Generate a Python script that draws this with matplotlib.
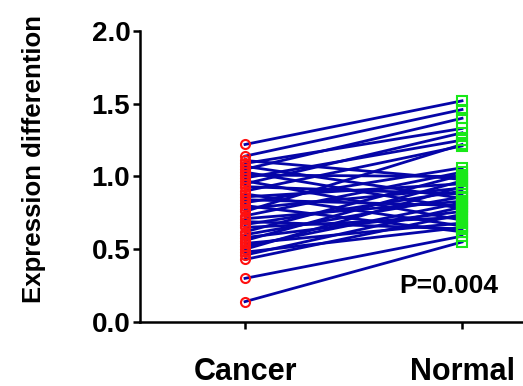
import numpy as np
import matplotlib
matplotlib.use("Agg")
import matplotlib.pyplot as plt

# paired expression values, one entry per sample
CANCER = [1.22, 1.14, 1.11, 1.09, 1.07, 1.05, 1.03, 1.01, 0.99, 0.97,
          0.95, 0.93, 0.90, 0.88, 0.86, 0.84, 0.82, 0.80, 0.78, 0.76,
          0.73, 0.71, 0.69, 0.67, 0.65, 0.62, 0.60, 0.58, 0.56, 0.54,
          0.52, 0.50, 0.48, 0.46, 0.43, 0.30, 0.14]
NORMAL = [1.52, 1.46, 0.98, 1.33, 0.85, 1.40, 0.78, 1.00, 1.25, 0.70,
          1.30, 0.88, 1.21, 0.66, 0.95, 0.80, 1.06, 0.62, 0.92, 1.22,
          1.03, 0.83, 0.64, 0.90, 0.72, 1.01, 0.86, 0.76, 0.97, 0.68,
          0.82, 0.93, 0.65, 0.79, 0.74, 0.59, 0.55]

GROUPS = ["Cancer", "Normal"]
YTICKS = [0.0, 0.5, 1.0, 1.5, 2.0]
P_TEXT = "P=0.004"

plt.rcParams["font.family"] = ["Liberation Sans", "DejaVu Sans"]
plt.rcParams["font.weight"] = "bold"

fig = plt.figure(figsize=(5.23, 3.86), dpi=100)
ax = fig.add_axes([0.2677, 0.1658, 0.7323, 0.7539])

for c, n in zip(CANCER, NORMAL):
    ax.plot([0, 1], [c, n], color="#0505a8", lw=2.0, zorder=2, clip_on=False)

ax.plot(np.zeros(len(CANCER)), CANCER, "o", ms=6.5, mfc="none", mec="#ff1010",
        mew=1.5, zorder=3, clip_on=False)
ax.plot(np.ones(len(NORMAL)), NORMAL, "s", ms=6.5, mfc="none", mec="#18e818",
        mew=1.5, zorder=3, clip_on=False)

ax.set_xlim(-0.484, 1.281)
ax.set_ylim(0, 2.0)
ax.set_xticks([0, 1])
ax.set_xticklabels(GROUPS, fontsize=22, fontweight="bold")
ax.set_yticks(YTICKS)
ax.set_yticklabels(["%.1f" % v for v in YTICKS], fontsize=20, fontweight="bold")
ax.tick_params(axis="both", direction="out", length=5, width=1.8, color="black")
ax.tick_params(axis="x", pad=20)
ax.tick_params(axis="y", pad=2)

for side in ["top", "right"]:
    ax.spines[side].set_visible(False)
for side in ["left", "bottom"]:
    ax.spines[side].set_linewidth(1.8)

ax.set_ylabel("Expression differention", fontsize=18.5, weight="bold")
ax.yaxis.set_label_coords(-0.245, 0.56)

ax.text(0.94, 0.25, P_TEXT, fontsize=19, fontweight="bold", ha="center", va="center")

fig.savefig("out.png", dpi=100)
